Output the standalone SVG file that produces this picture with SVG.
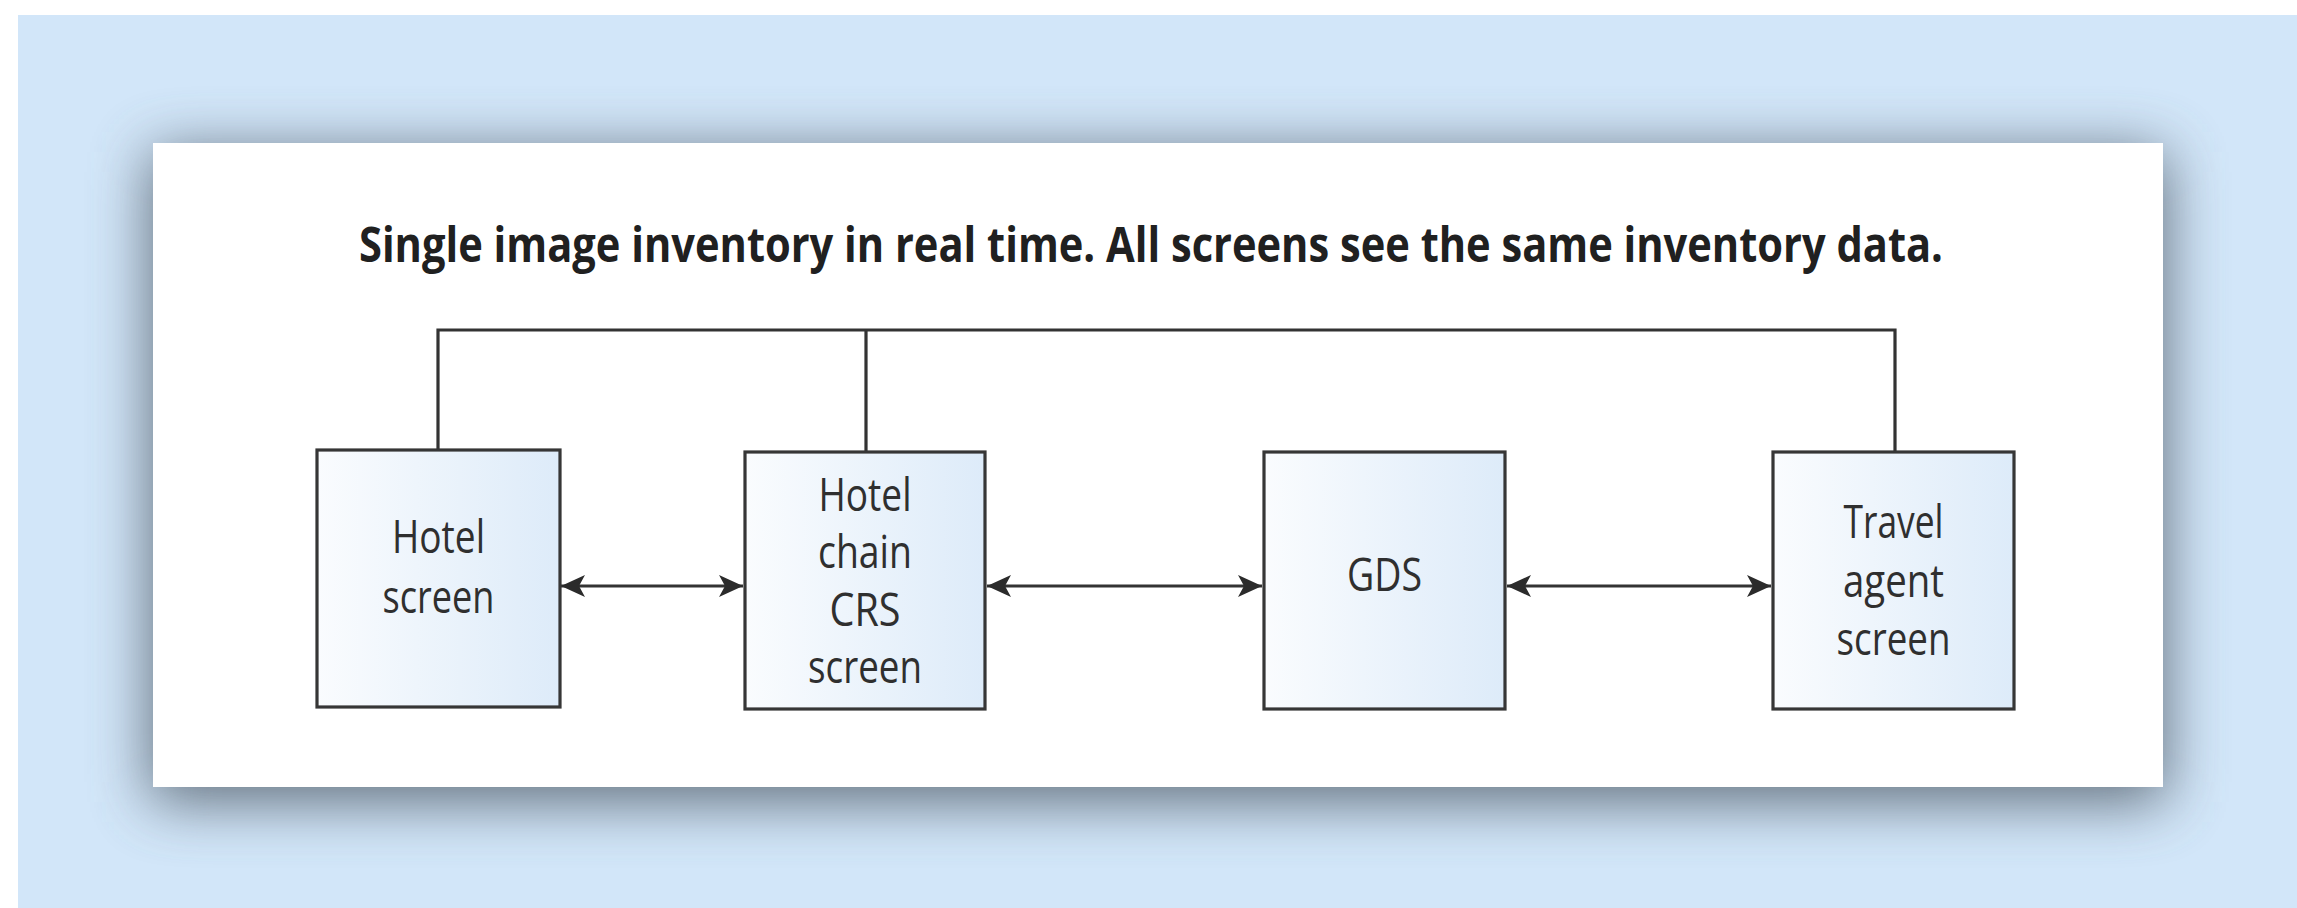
<svg xmlns="http://www.w3.org/2000/svg" width="2297" height="908" viewBox="0 0 2297 908">
  <style>
    .box { stroke: #363636; stroke-width: 3.2; fill: url(#boxFill); }
    .label { font-family: "Open Sans", "Liberation Sans", sans-serif; font-size: 46px; fill: #2f2f2f; text-anchor: middle; }
    .title { font-family: "Open Sans", "Liberation Sans", sans-serif; font-size: 49px; font-weight: bold; fill: #202020; }
    .wire { stroke: #333333; stroke-width: 3.2; fill: none; }
    .link { stroke: #333333; stroke-width: 2.8; fill: none; marker-start: url(#head); marker-end: url(#head); }
  </style>
  <defs>
    <linearGradient id="boxFill" x1="0" y1="0" x2="1" y2="0">
      <stop offset="0" stop-color="#fafcfe"/>
      <stop offset="1" stop-color="#ddebf9"/>
    </linearGradient>
    <filter id="cardShadow" x="-10%" y="-30%" width="120%" height="160%">
      <feGaussianBlur stdDeviation="30"/>
    </filter>
    <marker id="head" viewBox="0 -12 24 24" refX="24" refY="0" markerWidth="24" markerHeight="24" markerUnits="userSpaceOnUse" orient="auto-start-reverse">
      <path d="M24,0 L0,-11 L6,0 L0,11 Z" fill="#2b2b2b"/>
    </marker>
  </defs>

  <!-- page background and tinted panel -->
  <rect x="0" y="0" width="2297" height="908" fill="#ffffff"/>
  <rect x="18" y="15" width="2279" height="893" fill="#d2e6f9"/>

  <!-- white card with soft drop shadow -->
  <rect x="150" y="152" width="2016" height="650" fill="#56636f" opacity="0.9" filter="url(#cardShadow)"/>
  <rect x="153" y="143" width="2010" height="644" fill="#ffffff"/>

  <text class="title" x="359" y="262" textLength="1584" lengthAdjust="spacingAndGlyphs">Single image inventory in real time. All screens see the same inventory data.</text>

  <g id="connectors">
    <path class="wire" d="M438,450 V330 H1895 V452 M866,330 V452"/>
    <line class="link" x1="561" y1="586" x2="743" y2="586"/>
    <line class="link" x1="987" y1="586" x2="1262" y2="586"/>
    <line class="link" x1="1507" y1="586" x2="1771" y2="586"/>
  </g>

  <g id="hotel-screen">
    <rect class="box" x="317" y="450" width="243" height="257"/>
    <text class="label" x="438.5" y="553" textLength="93" lengthAdjust="spacingAndGlyphs">Hotel</text>
    <text class="label" x="438.5" y="613" textLength="112" lengthAdjust="spacingAndGlyphs">screen</text>
  </g>

  <g id="hotel-chain-crs-screen">
    <rect class="box" x="745" y="452" width="240" height="257"/>
    <text class="label" x="865" y="511" textLength="93" lengthAdjust="spacingAndGlyphs">Hotel</text>
    <text class="label" x="865" y="568" textLength="94" lengthAdjust="spacingAndGlyphs">chain</text>
    <text class="label" x="865" y="626" textLength="71" lengthAdjust="spacingAndGlyphs">CRS</text>
    <text class="label" x="865" y="683" textLength="114" lengthAdjust="spacingAndGlyphs">screen</text>
  </g>

  <g id="gds">
    <rect class="box" x="1264" y="452" width="241" height="257"/>
    <text class="label" x="1384.5" y="591" textLength="75" lengthAdjust="spacingAndGlyphs">GDS</text>
  </g>

  <g id="travel-agent-screen">
    <rect class="box" x="1773" y="452" width="241" height="257"/>
    <text class="label" x="1893.5" y="538" textLength="100" lengthAdjust="spacingAndGlyphs">Travel</text>
    <text class="label" x="1893.5" y="597" textLength="101" lengthAdjust="spacingAndGlyphs">agent</text>
    <text class="label" x="1893.5" y="655" textLength="114" lengthAdjust="spacingAndGlyphs">screen</text>
  </g>
</svg>
